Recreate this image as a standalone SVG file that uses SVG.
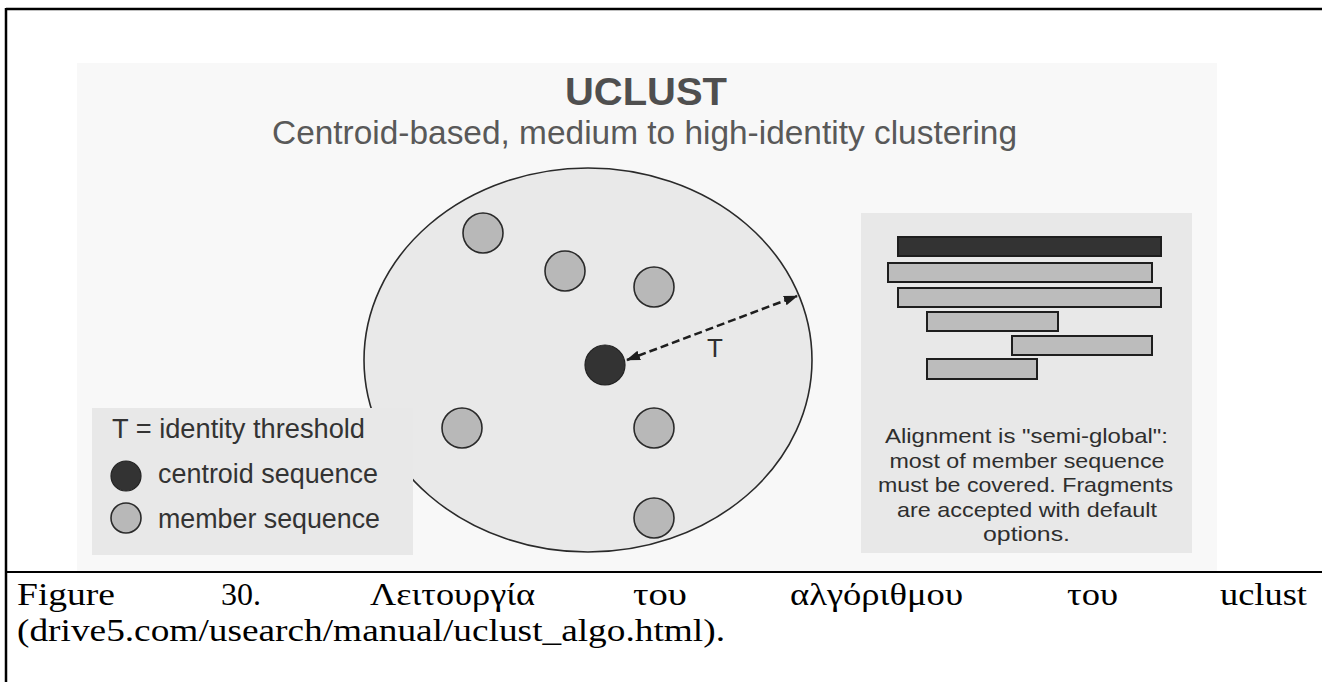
<svg xmlns="http://www.w3.org/2000/svg" width="1322" height="682" viewBox="0 0 1322 682">
  <style>
    .sans { font-family: "Liberation Sans", Arial, sans-serif; }
    .serif { font-family: "Liberation Serif", "Times New Roman", serif; font-size: 31px; fill: #000; }
    .member { fill: #b8b8b8; stroke: #2a2a2a; stroke-width: 1.6; }
    .centroid { fill: #333333; stroke: #222; stroke-width: 1.2; }
    .bar { fill: #bcbcbc; stroke: #1e1e1e; stroke-width: 2; }
    .note { font-family: "Liberation Sans", Arial, sans-serif; font-size: 21px; fill: #2e2e2e; text-anchor: middle; }
    .legend { font-family: "Liberation Sans", Arial, sans-serif; font-size: 27px; fill: #333; }
  </style>
  <defs>
    <marker id="ah" viewBox="0 0 14 10" markerWidth="14" markerHeight="10" refX="13" refY="5" orient="auto-start-reverse" markerUnits="userSpaceOnUse">
      <path d="M0,0 L14,5 L0,10 z" fill="#1e1e1e"/>
    </marker>
  </defs>

  <rect x="0" y="0" width="1322" height="682" fill="#ffffff"/>

  <!-- picture panel -->
  <g id="panel">
    <rect x="77" y="63" width="1140" height="509" fill="#f8f8f8"/>
  </g>

  <g id="title">
    <text class="sans" x="646" y="105" font-size="39" font-weight="bold" fill="#4f4f4f" text-anchor="middle" textLength="162" lengthAdjust="spacingAndGlyphs">UCLUST</text>
    <text class="sans" x="272" y="144" font-size="33" fill="#595959" textLength="745" lengthAdjust="spacingAndGlyphs">Centroid-based, medium to high-identity clustering</text>
  </g>

  <g id="cluster">
    <ellipse cx="588" cy="360" rx="224" ry="192" fill="#e9e9e9" stroke="#2a2a2a" stroke-width="1.6"/>
  </g>

  <g id="members">
    <circle class="member" cx="483" cy="233" r="20"/>
    <circle class="member" cx="565" cy="271" r="20"/>
    <circle class="member" cx="654" cy="287" r="20"/>
    <circle class="member" cx="462" cy="428" r="20"/>
    <circle class="member" cx="654" cy="428" r="20"/>
    <circle class="member" cx="654" cy="518" r="20"/>
  </g>

  <g id="centroid">
    <circle class="centroid" cx="605" cy="365" r="20"/>
  </g>

  <g id="connectors">
    <line x1="627" y1="360" x2="797" y2="296" stroke="#1e1e1e" stroke-width="2.5" stroke-dasharray="8,4" marker-start="url(#ah)" marker-end="url(#ah)"/>
    <text class="sans" x="715" y="357" font-size="26" fill="#2e2e2e" text-anchor="middle">T</text>
  </g>

  <g id="legend">
    <rect x="92" y="408" width="321" height="147" fill="#e8e8e8"/>
    <text class="legend" x="112" y="438" textLength="253" lengthAdjust="spacingAndGlyphs">T = identity threshold</text>
    <circle class="centroid" cx="126" cy="476" r="15"/>
    <text class="legend" x="158" y="483" textLength="220" lengthAdjust="spacingAndGlyphs">centroid sequence</text>
    <circle class="member" cx="126" cy="518" r="15"/>
    <text class="legend" x="158" y="528" textLength="222" lengthAdjust="spacingAndGlyphs">member sequence</text>
  </g>

  <g id="alignment">
    <rect x="861" y="213" width="331" height="340" fill="#e8e8e8"/>
    <rect x="898" y="237" width="263" height="19" fill="#333333" stroke="#1e1e1e" stroke-width="2"/>
    <rect class="bar" x="888" y="263" width="264" height="19"/>
    <rect class="bar" x="898" y="288" width="263" height="19"/>
    <rect class="bar" x="927" y="312" width="131" height="19"/>
    <rect class="bar" x="1012" y="336" width="140" height="19"/>
    <rect class="bar" x="927" y="359" width="110" height="20"/>
    <text class="note" x="1026.5" y="443" textLength="283" lengthAdjust="spacingAndGlyphs">Alignment is "semi-global":</text>
    <text class="note" x="1027" y="467.5" textLength="275" lengthAdjust="spacingAndGlyphs">most of member sequence</text>
    <text class="note" x="1025.5" y="492" textLength="295" lengthAdjust="spacingAndGlyphs">must be covered. Fragments</text>
    <text class="note" x="1027" y="516.5" textLength="260" lengthAdjust="spacingAndGlyphs">are accepted with default</text>
    <text class="note" x="1026.5" y="541" textLength="87" lengthAdjust="spacingAndGlyphs">options.</text>
  </g>

  <g id="frame">
    <line x1="6" y1="9" x2="1322" y2="9" stroke="#000" stroke-width="2.5"/>
    <line x1="6" y1="8" x2="6" y2="682" stroke="#000" stroke-width="2.5"/>
    <line x1="6" y1="572" x2="1322" y2="572" stroke="#000" stroke-width="2"/>
  </g>

  <g id="caption">
    <text class="serif" x="17" y="605" textLength="98" lengthAdjust="spacingAndGlyphs">Figure</text>
    <text class="serif" x="221" y="605" textLength="40" lengthAdjust="spacingAndGlyphs">30.</text>
    <text class="serif" x="370" y="605" textLength="165" lengthAdjust="spacingAndGlyphs">Λειτουργία</text>
    <text class="serif" x="633" y="605" textLength="54" lengthAdjust="spacingAndGlyphs">του</text>
    <text class="serif" x="790" y="605" textLength="173" lengthAdjust="spacingAndGlyphs">αλγόριθμου</text>
    <text class="serif" x="1067" y="605" textLength="51" lengthAdjust="spacingAndGlyphs">του</text>
    <text class="serif" x="1220" y="605" textLength="87" lengthAdjust="spacingAndGlyphs">uclust</text>
    <text class="serif" x="17" y="641" textLength="708" lengthAdjust="spacingAndGlyphs">(drive5.com/usearch/manual/uclust_algo.html).</text>
  </g>
</svg>
